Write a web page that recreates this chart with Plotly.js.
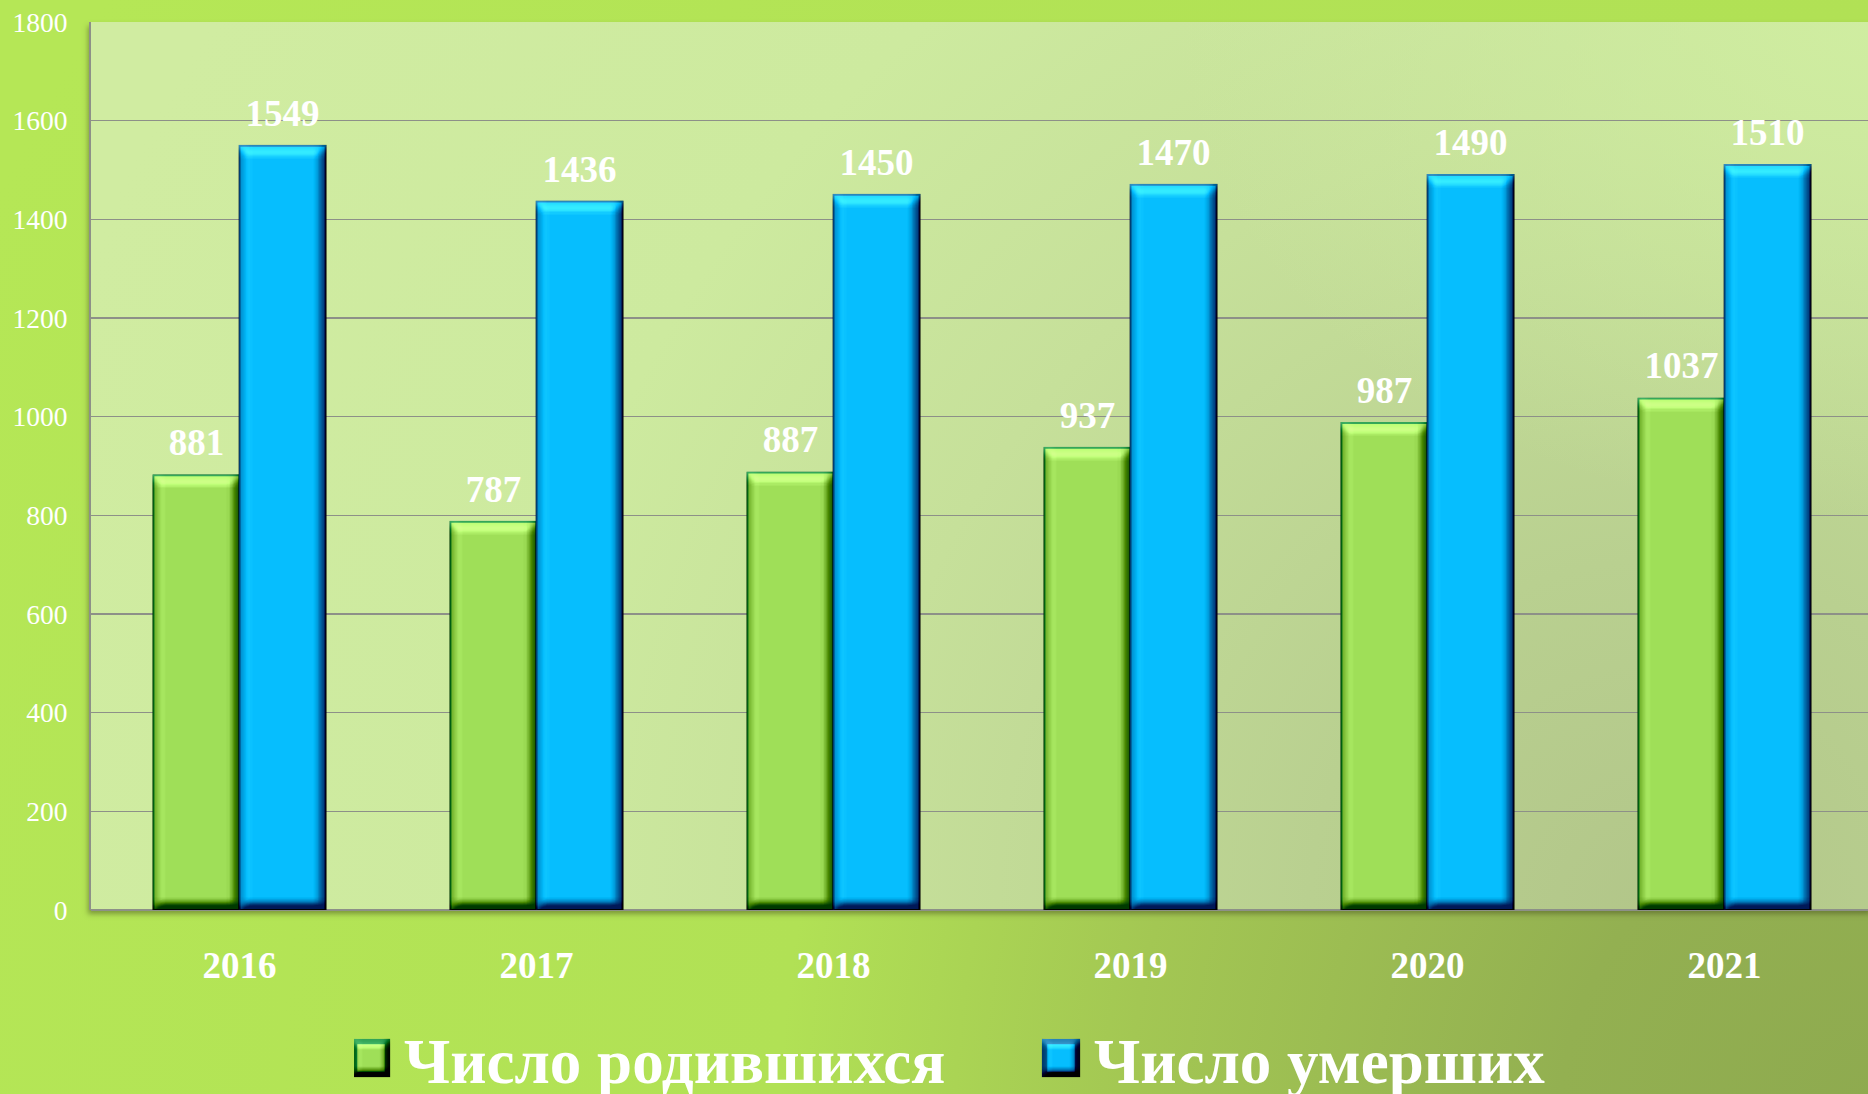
<!DOCTYPE html>
<html>
<head>
<meta charset="utf-8">
<script src="https://cdn.plot.ly/plotly-3.0.1.min.js"></script>
<style>
  html, body { margin: 0; padding: 0; overflow: hidden; width: 1868px; height: 1094px; }
  #wrap { position: relative; width: 1880px; height: 1120px;
    background: radial-gradient(circle at 100% 100%, #8eaa4f 0px, #93b051 320px, #a3c753 750px, #b1e155 1100px, #b5e756 2100px); }
  #pa { position: absolute; left: 91px; top: 22px; width: 1782px; height: 888px;
    background:
      radial-gradient(ellipse 700px 500px at 100% 0%, rgba(208,238,161,0.9) 0%, rgba(208,238,161,0) 100%),
      radial-gradient(circle at 88% 100%, #b2c689 0px, #b9d090 350px, #c6e09a 800px, #cdea9f 1150px, #d0eca1 1700px);
    box-shadow: -3px 4px 5px rgba(70, 80, 30, 0.5); }
  #chart { position: absolute; left: 0; top: 0; width: 1880px; height: 1120px; }
</style>
</head>
<body>
<svg width="0" height="0" style="position:absolute">
  <defs>
    <filter id="bevel" x="-5%" y="-5%" width="110%" height="110%" color-interpolation-filters="sRGB">
      <feGaussianBlur in="SourceAlpha" stdDeviation="5.5" result="blur"/>
      <feDiffuseLighting in="blur" surfaceScale="13" diffuseConstant="1" lighting-color="#ffffff" result="light">
        <feDistantLight azimuth="250" elevation="50"/>
      </feDiffuseLighting>
      <feComposite in="SourceGraphic" in2="light" operator="arithmetic" k1="0" k2="1" k3="0.85" k4="-0.651" result="lit"/>
      <feComposite in="lit" in2="SourceAlpha" operator="in"/>
    </filter>
    <filter id="bevelSmall" x="-10%" y="-10%" width="120%" height="120%" color-interpolation-filters="sRGB">
      <feGaussianBlur in="SourceAlpha" stdDeviation="1.5" result="blur"/>
      <feDiffuseLighting in="blur" surfaceScale="4" diffuseConstant="1" lighting-color="#ffffff" result="light">
        <feDistantLight azimuth="250" elevation="50"/>
      </feDiffuseLighting>
      <feComposite in="SourceGraphic" in2="light" operator="arithmetic" k1="0" k2="1" k3="0.85" k4="-0.651" result="lit"/>
      <feComposite in="lit" in2="SourceAlpha" operator="in"/>
    </filter>
  </defs>
</svg>
<div id="wrap">
  <div id="pa"></div>
  <div id="chart"></div>
</div>
<script>
// ---- data ----
const years = ['2016', '2017', '2018', '2019', '2020', '2021'];
const births = [881, 787, 887, 937, 987, 1037];
const deaths = [1549, 1436, 1450, 1470, 1490, 1510];
const seriesNames = ['Число родившихся', 'Число умерших'];
const yTicks = [0, 200, 400, 600, 800, 1000, 1200, 1400, 1600, 1800];

const serif = 'Liberation Serif, Times New Roman, serif';

const traces = [
  {
    type: 'bar', name: seriesNames[0], x: years, y: births,
    text: births.map(String), textposition: 'outside', cliponaxis: false,
    textfont: { family: serif, size: 37, color: '#ffffff', weight: 'bold' },
    marker: { color: '#9fdf58', line: { color: '#178a3c', width: 2 } },
    hoverinfo: 'x+y'
  },
  {
    type: 'bar', name: seriesNames[1], x: years, y: deaths,
    text: deaths.map(String), textposition: 'outside', cliponaxis: false,
    textfont: { family: serif, size: 37, color: '#ffffff', weight: 'bold' },
    marker: { color: '#06befe', line: { color: '#0b6a9e', width: 2 } },
    hoverinfo: 'x+y'
  }
];

const layout = {
  width: 1880, height: 1120,
  margin: { l: 91, r: 7, t: 22, b: 210, autoexpand: false },
  paper_bgcolor: 'rgba(0,0,0,0)',
  plot_bgcolor: 'rgba(0,0,0,0)',
  barmode: 'group', bargap: 0.42, bargroupgap: 0,
  font: { family: serif, color: '#ffffff' },
  xaxis: {
    type: 'category', showgrid: false, zeroline: false,
    showline: false, ticks: '',
    tickfont: { family: serif, size: 37, color: '#ffffff', weight: 'bold' },
    ticklabelstandoff: 30
  },
  yaxis: {
    range: [0, 1800], tickvals: yTicks, ticktext: yTicks.map(String),
    showgrid: true, gridcolor: '#8d9088', gridwidth: 1.3,
    zeroline: true, zerolinecolor: '#8d9088', zerolinewidth: 2,
    showline: true, linecolor: '#8d9088', linewidth: 2,
    ticks: '', tickfont: { family: serif, size: 27.5, color: '#ffffff' },
    ticklabelstandoff: 16
  },
  showlegend: true,
  legend: {
    orientation: 'h', x: 0.1476, xanchor: 'left', y: -0.1667, yanchor: 'middle',
    font: { family: serif, size: 63, color: '#ffffff', weight: 'bold' },
    itemwidth: 40, entrywidth: 635, bgcolor: 'rgba(0,0,0,0)', traceorder: 'normal'
  }
};

function decorate() {
  document.querySelectorAll('#chart .barlayer .point path').forEach(p => {
    p.setAttribute('filter', 'url(#bevel)');
  });
  document.querySelectorAll('#chart .barlayer .point text').forEach(t => {
    if (t.dataset.shifted) return;
    const tr = t.getAttribute('transform') || '';
    t.setAttribute('transform', 'translate(0,-9) ' + tr);
    t.dataset.shifted = '1';
  });
  document.querySelectorAll('#chart .legend .legendpoints path').forEach(p => {
    p.setAttribute('transform', 'translate(17,0) scale(2.75)');
    p.setAttribute('filter', 'url(#bevelSmall)');
  });
}

Plotly.newPlot('chart', traces, layout, { displayModeBar: false, staticPlot: true }).then(gd => {
  decorate();
  gd.on('plotly_afterplot', decorate);
});
</script>
</body>
</html>
